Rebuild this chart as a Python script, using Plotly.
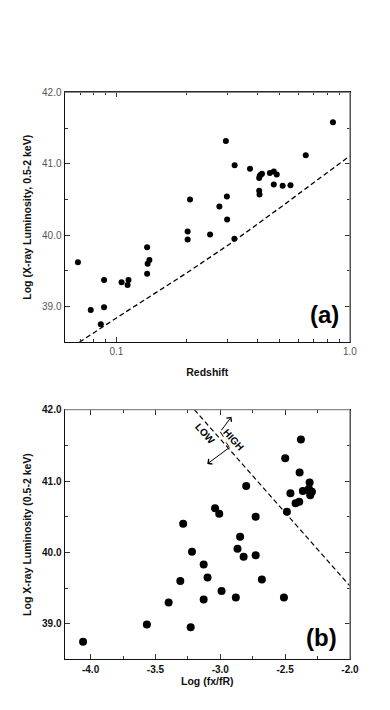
import plotly.graph_objects as go

# Panel (a): redshift vs log Lx
redshift = [0.0684, 0.0776, 0.0857, 0.0885, 0.0885, 0.1052, 0.1116, 0.1126, 0.1353, 0.1384,
            0.1360, 0.1353, 0.2018, 0.2018, 0.2066, 0.2518, 0.2760, 0.2943, 0.2972, 0.2979,
            0.3208, 0.3200, 0.3733, 0.4087, 0.4110, 0.4160, 0.4200, 0.4087, 0.4100, 0.4541,
            0.4720, 0.4860, 0.4720, 0.5150, 0.5565, 0.6470, 0.8460]
lx_a = [39.62, 38.95, 38.75, 39.37, 38.99, 39.34, 39.30, 39.37, 39.83, 39.65,
        39.60, 39.46, 40.05, 39.94, 40.50, 40.01, 40.40, 41.32, 40.54, 40.22,
        40.98, 39.95, 40.93, 40.80, 40.83, 40.85, 40.86, 40.62, 40.57, 40.87,
        40.89, 40.85, 40.71, 40.69, 40.70, 41.12, 41.58]

# flux limit curve
limit_z = [0.0694, 0.1, 0.2, 0.32, 0.5, 1.0]
limit_lx = [38.50, 38.84, 39.47, 39.92, 40.38, 41.11]

# Panel (b): log(fx/fR) vs log Lx
fxfr = [-4.058, -3.566, -3.398, -3.308, -3.286, -3.218, -3.228, -3.128, -3.098, -3.128,
        -3.040, -3.008, -2.990, -2.880, -2.867, -2.847, -2.820, -2.800, -2.727, -2.727,
        -2.679, -2.509, -2.499, -2.486, -2.459, -2.419, -2.391, -2.388, -2.378, -2.363,
        -2.311, -2.316, -2.293, -2.306, -2.323]
lx_b = [38.75, 38.99, 39.30, 39.60, 40.40, 40.01, 38.95, 39.83, 39.65, 39.34,
        40.62, 40.54, 39.46, 39.37, 40.05, 40.22, 39.94, 40.93, 40.50, 39.96,
        39.62, 39.37, 41.32, 40.57, 40.83, 40.69, 40.71, 41.12, 41.58, 40.86,
        40.98, 40.89, 40.85, 40.80, 40.87]

cut_x = [-3.2, -2.0]
cut_lx = [42.0, 39.53]

y_ticks = [39, 40, 41, 42]
y_labels = ["39.0", "40.0", "41.0", "42.0"]
z_ticks = [0.1, 1.0]
z_labels = ["0.1", "1.0"]
z_minor = [0.07, 0.08, 0.09, 0.2, 0.3, 0.4, 0.5, 0.6, 0.7, 0.8, 0.9]
f_ticks = [-4.0, -3.5, -3.0, -2.5, -2.0]
f_labels = ["-4.0", "-3.5", "-3.0", "-2.5", "-2.0"]
f_minor = [-4.25, -3.75, -3.25, -2.75, -2.25]

FONT = "Liberation Sans, Arial, Helvetica, sans-serif"
W, H = 390, 710


def px_y(p):
    return 1 - p / H


fig = go.Figure()
fig.add_trace(go.Scatter(x=redshift, y=lx_a, mode="markers",
                         marker=dict(size=6, color="black"), xaxis="x", yaxis="y"))
fig.add_trace(go.Scatter(x=limit_z, y=limit_lx, mode="lines",
                         line=dict(color="black", width=1.3, dash="5px,3px"), xaxis="x", yaxis="y"))
fig.add_trace(go.Scatter(x=fxfr, y=lx_b, mode="markers",
                         marker=dict(size=8, color="black"), xaxis="x2", yaxis="y2"))
fig.add_trace(go.Scatter(x=cut_x, y=cut_lx, mode="lines",
                         line=dict(color="black", width=1.2, dash="5px,3px"), xaxis="x2", yaxis="y2"))

xdom = [58 / W, 350 / W]
common = dict(showline=True, linecolor="#111", linewidth=1.3, mirror="ticks",
              ticks="inside", ticklen=5, tickcolor="#333", showgrid=False, zeroline=False)
light_tick = dict(family=FONT, size=10, color="#555")
bold_tick = dict(family=FONT, size=10, color="#111", weight="bold")
title_font = dict(family=FONT, size=10.5, color="#111", weight="bold")

fig.update_layout(
    width=W, height=H, showlegend=False,
    plot_bgcolor="white", paper_bgcolor="white",
    margin=dict(l=0, r=0, t=0, b=0),
    xaxis=dict(domain=xdom, type="log", range=[-1.2218, 0], anchor="y",
               tickvals=z_ticks, ticktext=z_labels, tickfont=light_tick,
               minor=dict(tickvals=z_minor, ticks="inside", ticklen=3, tickcolor="#333"),
               title=dict(text="Redshift", font=title_font, standoff=12), **common),
    yaxis=dict(domain=[px_y(331), px_y(79)], range=[38.5, 42.0], anchor="x",
               tickvals=y_ticks, ticktext=y_labels, tickfont=light_tick,
               minor=dict(tickvals=[39.5, 40.5, 41.5], ticks="inside", ticklen=3, tickcolor="#333"),
               title=dict(text="Log (X-ray Luminosity, 0.5-2 keV)", font=title_font, standoff=8),
               **common),
    xaxis2=dict(domain=xdom, range=[-4.2, -2.0], anchor="y2",
                tickvals=f_ticks, ticktext=f_labels, tickfont=bold_tick,
                minor=dict(tickvals=f_minor, ticks="inside", ticklen=3, tickcolor="#333"),
                title=dict(text="Log (fx/fR)", font=title_font, standoff=4), **common),
    yaxis2=dict(domain=[px_y(651), px_y(399)], range=[38.5, 42.0], anchor="x2",
                tickvals=y_ticks, ticktext=y_labels, tickfont=bold_tick,
                minor=dict(tickvals=[39.5, 40.5, 41.5], ticks="inside", ticklen=3, tickcolor="#333"),
                title=dict(text="Log X-ray Luminosity (0.5-2 keV)", font=title_font, standoff=8),
                **common),
)

# lighter top/right frame edges, as in the scan
for xr, yr in (("x domain", "y domain"), ("x2 domain", "y2 domain")):
    fig.add_shape(type="line", xref=xr, yref=yr, x0=0, x1=1, y0=1, y1=1,
                  line=dict(color="#888", width=1.3), layer="above")
    fig.add_shape(type="line", xref=xr, yref=yr, x0=1, x1=1, y0=0, y1=1,
                  line=dict(color="#888", width=1.3), layer="above")

# panel labels
fig.add_annotation(text="(a)", x=0.97, y=0.11, xref="x domain", yref="y domain",
                   xanchor="right", yanchor="middle", showarrow=False,
                   font=dict(family=FONT, size=24, color="black", weight="bold"))
fig.add_annotation(text="(b)", x=0.96, y=0.09, xref="x2 domain", yref="y2 domain",
                   xanchor="right", yanchor="middle", showarrow=False,
                   font=dict(family=FONT, size=24, color="black", weight="bold"))

# HIGH / LOW arrows across the cut line
arrow = dict(xref="x2", yref="y2", axref="x2", ayref="y2", text="", showarrow=True,
             arrowhead=4, arrowsize=1.2, arrowwidth=1, arrowcolor="black")
fig.add_annotation(x=-2.914, y=41.90, ax=-3.00, ay=41.69, **arrow)
fig.add_annotation(x=-3.100, y=41.24, ax=-2.929, ay=41.47, **arrow)
fig.add_shape(type="line", xref="x2", yref="y2", x0=-3.00, y0=41.69, x1=-2.975, y1=41.62,
              line=dict(color="black", width=1))
fig.add_shape(type="line", xref="x2", yref="y2", x0=-2.929, y0=41.47, x1=-2.955, y1=41.54,
              line=dict(color="black", width=1))
fig.add_annotation(text="HIGH", x=-2.90, y=41.58, xref="x2", yref="y2", showarrow=False,
                   textangle=48, font=dict(family=FONT, size=10, color="black", weight="bold"))
fig.add_annotation(text="LOW", x=-3.12, y=41.66, xref="x2", yref="y2", showarrow=False,
                   textangle=48, font=dict(family=FONT, size=10, color="black", weight="bold"))

fig.write_html("out.html")
